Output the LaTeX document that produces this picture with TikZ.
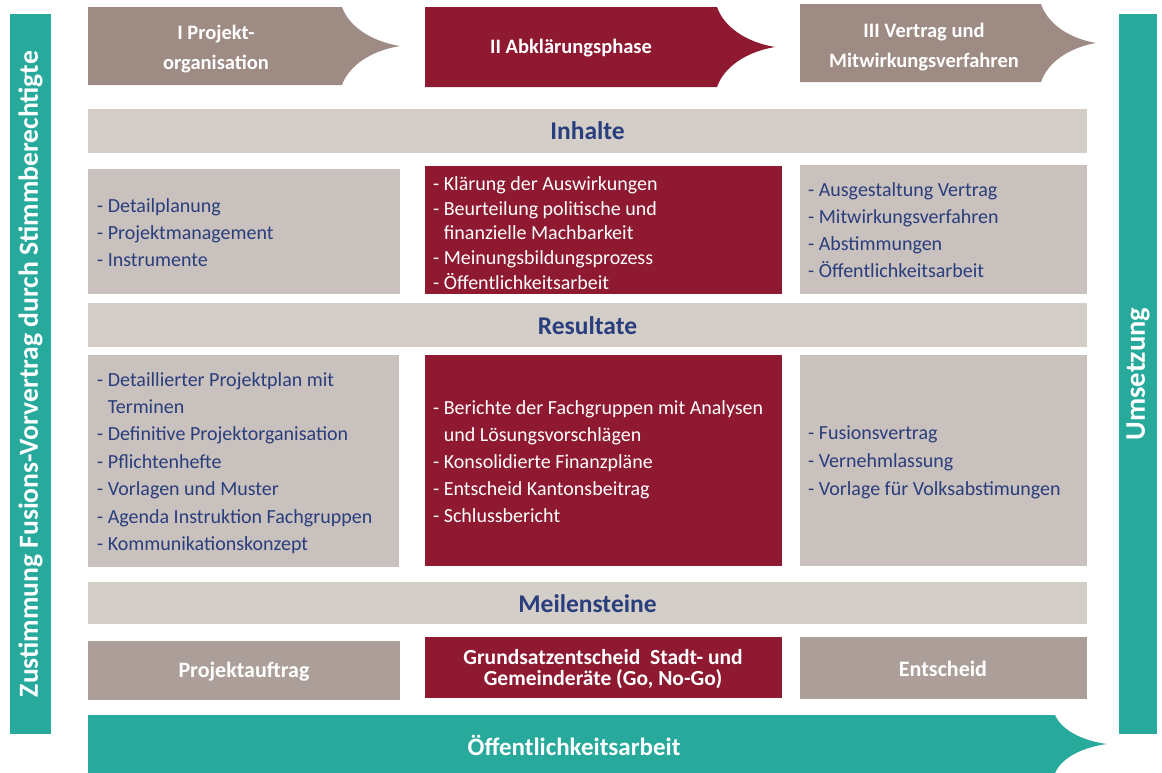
\documentclass[tikz,border=0pt]{standalone}
\usepackage{fontspec}
\setmainfont{Carlito}
\definecolor{cTeal}{HTML}{27A99C}
\definecolor{cBrown}{HTML}{9E8B83}
\definecolor{cMile}{HTML}{AC9F9A}
\definecolor{cBar}{HTML}{D3CEC8}
\definecolor{cBox}{HTML}{C9C1BD}
\definecolor{cRed}{HTML}{8E1930}
\definecolor{cBlue}{HTML}{2A3D7C}
\newcommand\phasearrow[6]{%
  \fill[#6] (#1,#2) -- (#3,#2)
    .. controls ({#3+0.12*(#4-#3)},{#2+0.5*(#5-#2)/2}) and ({#3+0.5*(#4-#3)},{#2+0.88*(#5-#2)/2}) .. (#4,{(#2+#5)/2})
    .. controls ({#3+0.5*(#4-#3)},{#5-0.88*(#5-#2)/2}) and ({#3+0.12*(#4-#3)},{#5-0.5*(#5-#2)/2}) .. (#3,#5)
    -- (#1,#5) -- cycle;}
\begin{document}
\begin{tikzpicture}[x=1pt,y=-1pt,
  barfill/.style={fill=cBar},
  greyfill/.style={fill=cBox},
  redfill/.style={fill=cRed},
  milefill/.style={fill=cMile},
  tealfill/.style={fill=cTeal},
  hdr/.style={text=cBlue,font=\bfseries\fontsize{25.5}{25}\selectfont,inner sep=0},
  phase/.style={text=white,font=\bfseries\fontsize{20.5}{30}\selectfont,align=center,inner sep=0},
  mile/.style={text=white,font=\bfseries\fontsize{21.5}{20.5}\selectfont,align=center,inner sep=0},
  cont/.style={text=cBlue,font=\fontsize{20}{27}\selectfont,align=left,anchor=west,inner sep=0},
  contw/.style={cont,text=white},
  side/.style={text=white,font=\bfseries\fontsize{27.6}{26}\selectfont,rotate=90,inner sep=0}]
\useasboundingbox (0,0) rectangle (1162,772);
\fill[white] (0,0) rectangle (1162,772);
% side bars
\fill[tealfill] (10,14) rectangle (51,734);
\fill[tealfill] (1119,14) rectangle (1157,734);
\node[side] (zust) at (30.5,374) {Zustimmung Fusions-Vorvertrag durch Stimmberechtigte};
\node[side,font=\bfseries\fontsize{28.5}{26}\selectfont] (ums) at (1138,374) {Umsetzung};
% phase arrows
\phasearrow{88}{7}{342}{400}{85}{fill=cBrown}
\phasearrow{425}{7}{717}{775}{87}{fill=cRed}
\phasearrow{800}{4}{1041}{1096}{82}{fill=cBrown}
\node[phase] (p1) at (216,49) {I Projekt-\\organisation};
\node[phase] (p2) at (571,48) {II Abklärungsphase};
\node[phase] (p3) at (924,47) {III Vertrag und\\Mitwirkungsverfahren};
% Inhalte
\fill[barfill] (88,109) rectangle (1087,153);
\node[hdr] (inh) at (587.5,131) {Inhalte};
\fill[greyfill] (88,169) rectangle (400,294);
\fill[redfill] (425,166) rectangle (782,294);
\fill[greyfill] (800,165) rectangle (1087,294);
\node[cont] (i1) at (97,233) {- Detailplanung\\- Projektmanagement\\- Instrumente};
\node[contw,font=\fontsize{20}{24.75}\selectfont] (i2) at (433,233) {- Klärung der Auswirkungen\\- Beurteilung politische und\\\hphantom{-} finanzielle Machbarkeit\\- Meinungsbildungsprozess\\- Öffentlichkeitsarbeit};
\node[cont] (i3) at (808,230) {- Ausgestaltung Vertrag\\- Mitwirkungsverfahren\\- Abstimmungen\\- Öffentlichkeitsarbeit};
% Resultate
\fill[barfill] (88,303) rectangle (1087,347);
\node[hdr] (res) at (587.5,326) {Resultate};
\fill[greyfill] (88,355) rectangle (399,567);
\fill[redfill] (425,355) rectangle (782,566);
\fill[greyfill] (800,355) rectangle (1087,566);
\node[cont,font=\fontsize{20}{27.4}\selectfont] (r1) at (97,463) {- Detaillierter Projektplan mit\\\hphantom{-} Terminen\\- Definitive Projektorganisation\\- Pflichtenhefte\\- Vorlagen und Muster\\- Agenda Instruktion Fachgruppen\\- Kommunikationskonzept};
\node[contw] (r2) at (433,462) {- Berichte der Fachgruppen mit Analysen\\\hphantom{-} und Lösungsvorschlägen\\- Konsolidierte Finanzpläne\\- Entscheid Kantonsbeitrag\\- Schlussbericht};
\node[cont,font=\fontsize{20}{28}\selectfont] (r3) at (808,462) {- Fusionsvertrag\\- Vernehmlassung\\- Vorlage für Volksabstimungen};
% Meilensteine
\fill[barfill] (88,582) rectangle (1087,624);
\node[hdr] (mei) at (587.5,604) {Meilensteine};
\fill[milefill] (88,641) rectangle (400,700);
\fill[redfill] (425,637) rectangle (782,698);
\fill[milefill] (800,637) rectangle (1087,699);
\node[mile,font=\bfseries\fontsize{22}{19}\selectfont] (m1) at (244,672) {Projektauftrag};
\node[mile] (m2) at (603,669) {Grundsatzentscheid~ Stadt- und\\Gemeinderäte (Go, No-Go)};
\node[mile,font=\bfseries\fontsize{22}{19}\selectfont] (m3) at (943,669) {Entscheid};
% bottom arrow
\phasearrow{88}{715}{1055}{1107}{773}{fill=cTeal}
\node[phase,font=\bfseries\fontsize{25}{25}\selectfont] (oeff) at (574,745) {Öffentlichkeitsarbeit};
\end{tikzpicture}
\end{document}
